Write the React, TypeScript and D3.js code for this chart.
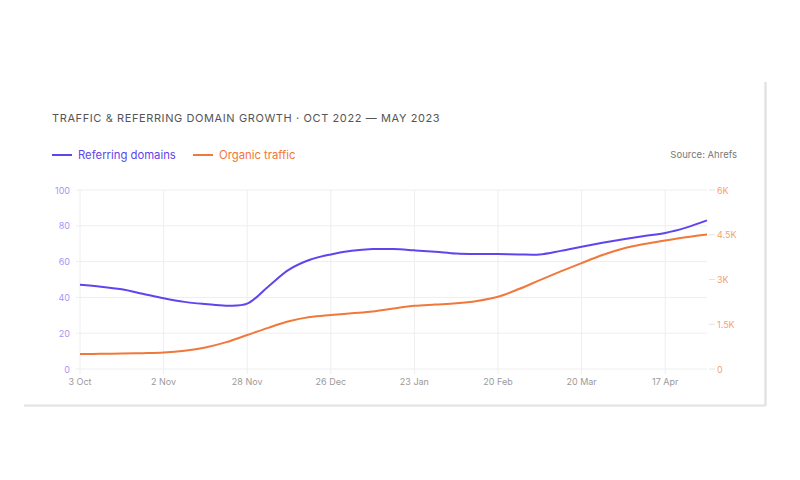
import React from 'react';
import * as d3 from 'd3';

// weekly samples, 3 Oct 2022 to 1 May 2023
const weeks = d3.range(31);
const referringDomains = [
  47, 46, 44.5, 42, 39.5, 37.5, 36.3, 35.4, 36.5, 46, 55.5, 61, 64, 66, 67, 67,
  66.3, 65.5, 64.5, 64.2, 64.2, 64, 64, 66, 68.3, 70.5, 72.5, 74.3, 76, 79, 83,
];
const organicTraffic = [
  500, 510, 520, 530, 550, 610, 720, 900, 1140, 1380, 1600, 1740, 1810, 1870,
  1930, 2030, 2120, 2160, 2200, 2280, 2420, 2680, 2980, 3270, 3550, 3820, 4040,
  4190, 4310, 4420, 4510,
];
const xTickWeeks = [0, 4, 8, 12, 16, 20, 24, 28];
const xTickLabels = ['3 Oct', '2 Nov', '28 Nov', '26 Dec', '23 Jan', '20 Feb', '20 Mar', '17 Apr'];
const leftTicks = [0, 20, 40, 60, 80, 100];
const rightTicks = [0, 1500, 3000, 4500, 6000];
const rightTickLabels = ['0', '1.5K', '3K', '4.5K', '6K'];

const PURPLE = '#5f45ee';
const ORANGE = '#f0783a';
const FONT = 'Inter, "Noto Sans", sans-serif';

const App = () => {
  const width = 800;
  const height = 480;
  const margin = { top: 190, right: 93, bottom: 111, left: 80 };

  const x = d3.scaleLinear()
    .domain([0, 30])
    .range([margin.left, width - margin.right]);
  const yLeft = d3.scaleLinear()
    .domain([0, 100])
    .range([height - margin.bottom, margin.top]);
  const yRight = d3.scaleLinear()
    .domain([0, 6000])
    .range([height - margin.bottom, margin.top]);

  const blueLine = d3.line<number>()
    .x((d, i) => x(weeks[i]))
    .y((d) => yLeft(d))
    .curve(d3.curveCatmullRom.alpha(0.5));
  const orangeLine = d3.line<number>()
    .x((d, i) => x(weeks[i]))
    .y((d) => yRight(d))
    .curve(d3.curveCatmullRom.alpha(0.5));

  const [x0, x1] = x.range();
  const [yBottom, yTop] = yLeft.range();

  return (
    <svg
      width={width}
      height={height}
      style={{ position: 'absolute', left: 0, top: 0, background: '#fff' }}
      fontFamily={FONT}
    >
      {/* card edges */}
      <line x1={766} y1={82} x2={766} y2={406} stroke="#ececec" strokeWidth={2} />
      <line x1={765} y1={82} x2={765} y2={405} stroke="#d6d6d6" />
      <line x1={24} y1={406} x2={766} y2={406} stroke="#ececec" strokeWidth={2} />
      <line x1={24} y1={405} x2={765} y2={405} stroke="#dcdcdc" />

      <text x={52} y={122} fontSize={11} fill="#555" letterSpacing={0.6}>
        TRAFFIC &amp; REFERRING DOMAIN GROWTH · OCT 2022 — MAY 2023
      </text>

      {/* legend */}
      <line x1={52} y1={155} x2={72} y2={155} stroke={PURPLE} strokeWidth={2} />
      <text x={78} y={159} fontSize={11.3} fill={PURPLE}>Referring domains</text>
      <line x1={193} y1={155} x2={213} y2={155} stroke={ORANGE} strokeWidth={2} />
      <text x={219} y={159} fontSize={11.3} fill={ORANGE}>Organic traffic</text>
      <text x={737} y={158} fontSize={9.5} fill="#777" textAnchor="end">Source: Ahrefs</text>

      {/* grid */}
      {leftTicks.map((t) => (
        <line key={`h${t}`} x1={x0 - 4} x2={x1} y1={yLeft(t)} y2={yLeft(t)} stroke="#eeeeee" />
      ))}
      {xTickWeeks.map((w) => (
        <line key={`v${w}`} x1={x(w)} x2={x(w)} y1={yTop} y2={yBottom + 5} stroke="#eeeeee" />
      ))}

      {/* left axis */}
      {leftTicks.map((t) => (
        <text key={`l${t}`} x={70} y={yLeft(t) + 3.5} fontSize={9} fill="#a696f4" textAnchor="end">
          {t}
        </text>
      ))}

      {/* right axis */}
      {rightTicks.map((t, i) => (
        <g key={`r${t}`}>
          <line x1={x1 + 2} x2={x1 + 8} y1={yRight(t)} y2={yRight(t)} stroke="#e4e4e4" />
          <text x={717} y={yRight(t) + 3.5} fontSize={9} fill="#f4a172">
            {rightTickLabels[i]}
          </text>
        </g>
      ))}

      {/* bottom axis */}
      {xTickWeeks.map((w, i) => (
        <text key={`x${w}`} x={x(w)} y={385} fontSize={9} fill="#9a9a9a" textAnchor="middle">
          {xTickLabels[i]}
        </text>
      ))}

      <path d={orangeLine(organicTraffic) ?? ''} fill="none" stroke={ORANGE} strokeWidth={2} />
      <path d={blueLine(referringDomains) ?? ''} fill="none" stroke={PURPLE} strokeWidth={2} />
    </svg>
  );
};

export default App;
